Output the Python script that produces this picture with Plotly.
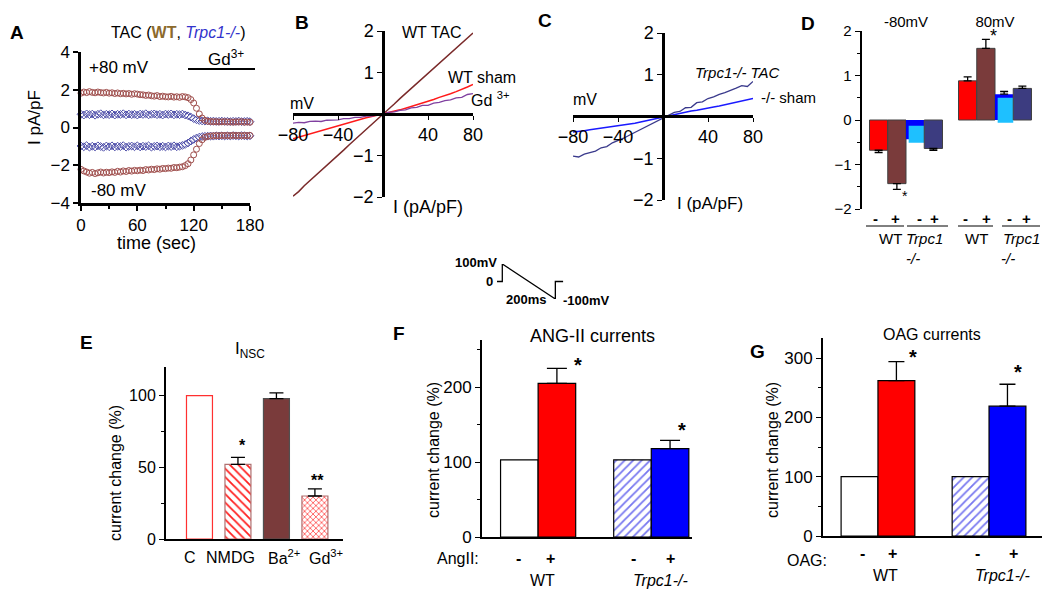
import plotly.graph_objects as go

FONT = "Arial, Liberation Sans, sans-serif"
# the page body keeps its default 8px margin, so the figure is drawn 8px smaller
# and every position below is given in window pixels
OFF = 8
FW, FH = 1050 - OFF, 600 - OFF

# ---- panel A: current vs time at +80 / -80 mV
time_s = [0, 3, 6, 9, 12, 15, 18, 21, 24, 27, 30, 33, 36, 39, 42, 45, 48, 51, 54, 57, 60,
          63, 66, 69, 72, 75, 78, 81, 84, 87, 90, 93, 96, 99, 102, 105, 108, 111, 114, 117, 120,
          123, 126, 129, 132, 135, 138, 141, 144, 147, 150, 153, 156, 159, 162, 165, 168, 171, 174, 177, 180]
wt_pos = [1.82, 1.88, 1.85, 1.90, 1.86, 1.84, 1.88, 1.85, 1.83, 1.86, 1.82,
          1.84, 1.80, 1.83, 1.79, 1.81, 1.78, 1.80, 1.76, 1.79, 1.77,
          1.74, 1.73, 1.70, 1.72, 1.68, 1.66, 1.69, 1.64, 1.66, 1.63,
          1.62, 1.65, 1.61, 1.63, 1.60, 1.64, 1.62, 1.58, 1.48, 1.30,
          1.02, 0.72, 0.50, 0.38, 0.33, 0.32, 0.30, 0.31, 0.29, 0.30,
          0.31, 0.29, 0.30, 0.28, 0.30, 0.29, 0.31, 0.28, 0.29, 0.28]
wt_neg = [-2.22, -2.30, -2.36, -2.42, -2.38, -2.44, -2.40, -2.36, -2.41, -2.37, -2.39,
          -2.35, -2.38, -2.32, -2.36, -2.30, -2.33, -2.28, -2.31, -2.27, -2.29,
          -2.26, -2.28, -2.23, -2.25, -2.21, -2.23, -2.19, -2.21, -2.17, -2.18,
          -2.15, -2.16, -2.12, -2.13, -2.10, -2.08, -2.02, -1.92, -1.72, -1.45,
          -1.15, -0.85, -0.65, -0.52, -0.47, -0.45, -0.44, -0.43, -0.44, -0.42,
          -0.43, -0.42, -0.44, -0.41, -0.43, -0.42, -0.44, -0.42, -0.43, -0.42]
ko_pos = [0.70, 0.66, 0.72, 0.68, 0.71, 0.65, 0.70, 0.73, 0.67, 0.70, 0.68,
          0.72, 0.66, 0.70, 0.69, 0.73, 0.67, 0.71, 0.68, 0.70, 0.66,
          0.71, 0.69, 0.73, 0.67, 0.70, 0.72, 0.68, 0.70, 0.66, 0.71,
          0.69, 0.72, 0.67, 0.70, 0.68, 0.71, 0.66, 0.62, 0.55, 0.47,
          0.41, 0.37, 0.35, 0.34, 0.35, 0.33, 0.34, 0.32, 0.33, 0.34,
          0.32, 0.33, 0.31, 0.33, 0.32, 0.34, 0.31, 0.32, 0.33, 0.31]
ko_neg = [-0.98, -1.02, -0.96, -1.04, -0.99, -1.03, -0.97, -1.01, -1.05, -0.98, -1.02,
          -0.97, -1.03, -0.99, -1.01, -0.96, -1.04, -1.00, -0.98, -1.02, -0.97,
          -1.03, -0.99, -1.01, -0.97, -1.04, -1.00, -0.98, -1.02, -0.99, -1.03,
          -0.98, -1.01, -0.97, -1.02, -0.99, -0.95, -0.90, -0.82, -0.72, -0.63,
          -0.56, -0.51, -0.48, -0.47, -0.46, -0.45, -0.46, -0.44, -0.45, -0.44,
          -0.45, -0.44, -0.45, -0.43, -0.44, -0.45, -0.43, -0.44, -0.45, -0.44]

# ---- panels B, C: I-V curves
volt_mv = [-80, -75, -70, -65, -60, -55, -50, -45, -40, -35, -30, -25, -20, -15, -10, -5, 0,
           5, 10, 15, 20, 25, 30, 35, 40, 45, 50, 55, 60, 65, 70, 75, 80]
wt_tac = [-1.98, -1.87, -1.73, -1.61, -1.49, -1.36, -1.24, -1.12, -0.99, -0.87, -0.74, -0.62, -0.50,
          -0.37, -0.25, -0.12, 0.0, 0.12, 0.24, 0.37, 0.49, 0.61, 0.73, 0.86, 0.98, 1.10, 1.22,
          1.34, 1.46, 1.58, 1.71, 1.83, 1.95]
wt_sham = [-0.60, -0.56, -0.52, -0.48, -0.44, -0.41, -0.37, -0.33, -0.29, -0.25, -0.21, -0.17, -0.13,
           -0.09, -0.06, -0.03, 0.0, 0.03, 0.06, 0.10, 0.14, 0.18, 0.22, 0.27, 0.31, 0.35, 0.40,
           0.44, 0.49, 0.54, 0.59, 0.65, 0.71]
wt_gd = [-0.22, -0.20, -0.21, -0.18, -0.17, -0.18, -0.15, -0.14, -0.14, -0.11, -0.11, -0.08, -0.08,
         -0.05, -0.05, -0.02, 0.0, 0.04, 0.05, 0.09, 0.10, 0.15, 0.16, 0.21, 0.21, 0.26, 0.28,
         0.32, 0.34, 0.39, 0.40, 0.47, 0.49]
ko_tac = [-0.95, -0.97, -0.90, -0.86, -0.83, -0.75, -0.72, -0.63, -0.58, -0.52, -0.45, -0.38, -0.31,
          -0.23, -0.16, -0.10, -0.02, 0.04, 0.10, 0.12, 0.21, 0.22, 0.33, 0.35, 0.43, 0.47, 0.53,
          0.57, 0.62, 0.68, 0.74, 0.72, 0.84]
ko_sham = [-0.37, -0.36, -0.34, -0.32, -0.30, -0.29, -0.27, -0.25, -0.23, -0.21, -0.18, -0.16, -0.13,
           -0.10, -0.07, -0.04, -0.01, 0.02, 0.05, 0.08, 0.10, 0.13, 0.15, 0.18, 0.20, 0.23, 0.25,
           0.28, 0.31, 0.34, 0.37, 0.40, 0.43]

# ---- panel D: mean currents at -80 / 80 mV
d_volts = ["-80mV", "80mV"]
d_wt_sham = [-0.68, 0.88]
d_wt_sham_err = [0.05, 0.09]
d_wt_tac = [-1.43, 1.61]
d_wt_tac_err = [0.13, 0.20]
d_ko_sham = [-0.43, 0.58]
d_ko_sham_err = [0.0, 0.06]
d_ko_sham_top = [-0.13, 0.50]
d_ko_sham_bottom = [-0.51, -0.06]
d_ko_tac = [-0.64, 0.71]
d_ko_tac_err = [0.04, 0.05]

# ---- panel E: I_NSC blockers
e_labels = ["C", "NMDG", "Ba<sup>2+</sup>", "Gd<sup>3+</sup>"]
e_values = [100, 52, 98, 30]
e_err = [0, 5, 4, 5]

# ---- panels F, G
genotypes = ["WT", "Trpc1-/-"]
angii_minus = [103, 103]
angii_plus = [205, 118]
angii_plus_err = [20, 11]
oag_minus = [100, 100]
oag_plus = [262, 219]
oag_plus_err = [32, 37]

# ---- voltage protocol
prot_t = [0, 20, 20, 220, 220, 250]
prot_v = [0, 0, 100, -100, 0, 0]

RED = "#ff0000"
BROWN = "#7a3b3b"
BLUE = "#0000ff"
CYAN = "#1ec0ff"
NAVY = "#3c3c80"


def px(x):
    return (x - OFF) / FW


def py(y):
    return 1 - (y - OFF) / FH


fig = go.Figure()

# A
for ys, sym, col in [(ko_pos, "diamond-open", "#4b4ba8"), (ko_neg, "diamond-open", "#4b4ba8"),
                     (wt_pos, "circle-open", "#a0504e"), (wt_neg, "circle-open", "#a0504e")]:
    fig.add_trace(go.Scatter(x=time_s, y=ys, mode="markers", xaxis="x", yaxis="y", cliponaxis=False,
                             marker=dict(symbol=sym, size=6, color=col, line=dict(width=1))))

# B
fig.add_trace(go.Scatter(x=volt_mv, y=wt_tac, mode="lines", line=dict(color="#7a2a2a", width=1.5),
                         xaxis="x2", yaxis="y2"))
fig.add_trace(go.Scatter(x=volt_mv, y=wt_sham, mode="lines", line=dict(color="#ff1a1a", width=1.5),
                         xaxis="x2", yaxis="y2"))
fig.add_trace(go.Scatter(x=volt_mv, y=wt_gd, mode="lines", line=dict(color="#8040a0", width=1.3),
                         xaxis="x2", yaxis="y2"))

# C
fig.add_trace(go.Scatter(x=volt_mv, y=ko_sham, mode="lines", line=dict(color="#1a1aff", width=1.5),
                         xaxis="x3", yaxis="y3"))
fig.add_trace(go.Scatter(x=volt_mv, y=ko_tac, mode="lines", line=dict(color="#3a3a8c", width=1.3),
                         xaxis="x3", yaxis="y3"))

# D
bw = 0.205
outline = dict(color="#404040", width=1)
ebar = dict(type="data", symmetric=False, color="black", thickness=1.3, width=4)
fig.add_trace(go.Bar(x=d_volts, y=d_wt_sham, width=bw, offset=-2 * bw, marker=dict(color=RED, line=outline),
                     error_y=dict(array=[0, d_wt_sham_err[1]], arrayminus=[d_wt_sham_err[0], 0], **ebar),
                     xaxis="x4", yaxis="y4"))
fig.add_trace(go.Bar(x=d_volts, y=d_wt_tac, width=bw, offset=-bw, marker=dict(color=BROWN, line=outline),
                     error_y=dict(array=[0, d_wt_tac_err[1]], arrayminus=[d_wt_tac_err[0], 0], **ebar),
                     xaxis="x4", yaxis="y4"))
fig.add_trace(go.Bar(x=d_volts, y=d_ko_sham, width=bw, offset=0, marker=dict(color=BLUE, line=dict(width=0)),
                     error_y=dict(array=[0, d_ko_sham_err[1]], arrayminus=[d_ko_sham_err[0], 0], **ebar),
                     xaxis="x4", yaxis="y4"))
fig.add_trace(go.Bar(x=d_volts, y=[b - t for t, b in zip(d_ko_sham_top, d_ko_sham_bottom)], base=d_ko_sham_top,
                     width=bw - 0.03, offset=0.03, marker=dict(color=CYAN, line=dict(width=0)),
                     xaxis="x4", yaxis="y4"))
fig.add_trace(go.Bar(x=d_volts, y=d_ko_tac, width=bw, offset=bw, marker=dict(color=NAVY, line=outline),
                     error_y=dict(array=[0, d_ko_tac_err[1]], arrayminus=[d_ko_tac_err[0], 0], **ebar),
                     xaxis="x4", yaxis="y4"))

# E: one trace per bar so each can carry its own fill pattern
e_fill = ["white", "white", BROWN, "white"]
e_line = ["#ff3030", "#b07070", "#505050", "#b07070"]
e_pat = ["", "\\", "", "x"]
e_pat_size = [6, 6, 6, 4]
for i in range(len(e_labels)):
    fig.add_trace(go.Bar(
        x=[e_labels[i]], y=[e_values[i]], width=0.675, xaxis="x5", yaxis="y5",
        marker=dict(color=e_fill[i], line=dict(color=e_line[i], width=1.2),
                    pattern=dict(shape=e_pat[i], fillmode="overlay", fgcolor="#ff2020", bgcolor=e_fill[i],
                                 fgopacity=1, size=e_pat_size[i], solidity=0.3)),
        error_y=dict(type="data", symmetric=False, array=[e_err[i]], arrayminus=[0],
                     color="black", thickness=1.3, width=7, visible=e_err[i] > 0)))

# F and G
hw = 0.332
for ax, minus, plus, err, capw in [("6", angii_minus, angii_plus, angii_plus_err, 10),
                                    ("7", oag_minus, oag_plus, oag_plus_err, 8)]:
    fig.add_trace(go.Bar(
        x=genotypes, y=minus, width=hw, offset=-hw, xaxis="x" + ax, yaxis="y" + ax,
        marker=dict(color="white", line=dict(color="black", width=1.2),
                    pattern=dict(shape=["", "/"], fillmode="overlay", fgcolor="#7878f0", bgcolor="white",
                                 fgopacity=1, size=6, solidity=0.3))))
    fig.add_trace(go.Bar(
        x=genotypes, y=plus, width=hw, offset=0, xaxis="x" + ax, yaxis="y" + ax,
        marker=dict(color=[RED, BLUE], line=dict(color="black", width=1.2)),
        error_y=dict(type="data", symmetric=False, array=err, arrayminus=[0, 0],
                     color="black", thickness=1.3, width=capw)))

# protocol
fig.add_trace(go.Scatter(x=prot_t, y=prot_v, mode="lines", line=dict(color="black", width=1.3),
                         xaxis="x8", yaxis="y8"))


def tfont(size):
    return dict(size=size, family=FONT, color="black")


base = dict(showgrid=False, zeroline=False, linecolor="black", tickcolor="black", automargin=False)
mticks = dict(ticks="outside", ticklen=3, tickcolor="black", showgrid=False)

fig.update_layout(
    template="none",
    width=FW, height=FH, margin=dict(l=0, r=0, t=0, b=0, pad=0), autosize=False,
    paper_bgcolor="white", plot_bgcolor="white", showlegend=False,
    barmode="overlay", font=dict(family=FONT, color="black"),
    xaxis=dict(domain=[px(81), px(250)], range=[0, 180], anchor="y", showline=True, linewidth=2.5,
               ticks="outside", ticklen=5, tickwidth=1.5, tickvals=[0, 60, 120, 180], tickfont=tfont(17),
               minor=dict(dtick=30, **mticks), **base),
    yaxis=dict(domain=[py(203), py(52)], range=[-4, 4], anchor="x", showline=True, linewidth=2.5,
               ticks="outside", ticklen=5, tickwidth=1.5, tickvals=[-4, -2, 0, 2, 4], tickfont=tfont(17), **base),
    xaxis2=dict(domain=[px(293), px(473)], range=[-80, 80], anchor="free", position=py(114),
                showline=True, linewidth=2.5, ticks="outside", ticklen=4, tickvals=[-80, -40, 40, 80],
                tickfont=tfont(18), **base),
    yaxis2=dict(domain=[py(197), py(31)], range=[-2, 2], anchor="free", position=px(383),
                showline=True, linewidth=2.5, ticks="outside", ticklen=5, tickvals=[-2, -1, 1, 2],
                tickfont=tfont(18), **base),
    xaxis3=dict(domain=[px(573), px(753)], range=[-80, 80], anchor="free", position=py(116),
                showline=True, linewidth=2.5, ticks="outside", ticklen=4, tickvals=[-80, -40, 40, 80],
                tickfont=tfont(18), **base),
    yaxis3=dict(domain=[py(200), py(33)], range=[-2, 2], anchor="free", position=px(663),
                showline=True, linewidth=2.5, ticks="outside", ticklen=5, tickvals=[-2, -1, 1, 2],
                tickfont=tfont(18), **base),
    xaxis4=dict(domain=[px(861.5), px(1039.5)], range=[-0.5, 1.5], anchor="y4", side="top",
                showline=False, ticks="", type="category", tickfont=tfont(15), **base),
    yaxis4=dict(domain=[py(209), py(31)], range=[-2, 2], anchor="x4", showline=True, linewidth=2,
                ticks="outside", ticklen=5, dtick=1, minor=dict(dtick=0.5, **mticks), tickfont=tfont(15), **base),
    xaxis5=dict(domain=[px(166), px(343)], range=[-0.87, 3.73], anchor="y5", showline=True, linewidth=2,
                ticks="", type="category", showticklabels=False, **base),
    yaxis5=dict(domain=[py(539), py(367)], range=[0, 120], anchor="x5", showline=True, linewidth=2,
                ticks="outside", ticklen=5, tickvals=[0, 50, 100], minor=dict(dtick=25, **mticks),
                tickfont=tfont(16), **base),
    xaxis6=dict(domain=[px(482), px(692)], range=[-0.496, 1.36], anchor="y6", showline=True, linewidth=2,
                ticks="", type="category", showticklabels=False, **base),
    yaxis6=dict(domain=[py(537), py(340)], range=[0, 263], anchor="x6", showline=True, linewidth=2,
                ticks="outside", ticklen=5, tickvals=[0, 100, 200], minor=dict(dtick=50, **mticks),
                tickfont=tfont(17), **base),
    xaxis7=dict(domain=[px(823), px(1043)], range=[-0.495, 1.486], anchor="y7", showline=True, linewidth=2,
                ticks="", type="category", showticklabels=False, **base),
    yaxis7=dict(domain=[py(536), py(338)], range=[0, 334], anchor="x7", showline=True, linewidth=2,
                ticks="outside", ticklen=5, tickvals=[0, 100, 200, 300], minor=dict(dtick=50, **mticks),
                tickfont=tfont(17), **base),
    xaxis8=dict(domain=[px(497), px(563.3)], range=[0, 250], anchor="y8", visible=False),
    yaxis8=dict(domain=[py(299), py(264)], range=[-100, 100], anchor="x8", visible=False),
)


def ann(x, y, text, size=15, **kw):
    return dict(x=px(x), y=py(y), xref="paper", yref="paper", text=text, showarrow=False,
                font=tfont(size), xanchor="center", yanchor="middle", **kw)


anns = [
    # A
    ann(17, 33, "<b>A</b>", 19),
    ann(178, 32, "TAC (<span style='color:#8c6a2c'><b>WT</b></span>, "
                 "<span style='color:#3333cc'><i>Trpc1-/-</i></span>)", 16),
    ann(226, 58, "Gd<sup>3+</sup>", 17),
    ann(119, 67, "+80 mV", 17),
    ann(118, 190, "-80 mV", 17),
    ann(35, 118, "I pA/pF", 17, textangle=-90),
    ann(156, 243, "time (sec)", 18),
    # B
    ann(302, 23, "<b>B</b>", 19),
    ann(432, 33, "WT TAC", 16),
    ann(482, 77, "WT sham", 16),
    ann(490, 99, "Gd <sup>3+</sup>", 16),
    ann(302, 103, "mV", 16),
    ann(428, 207, "I (pA/pF)", 18),
    # C
    ann(545, 21, "<b>C</b>", 19),
    ann(737, 72, "<i>Trpc1-/- TAC</i>", 15),
    ann(788, 98, "-/- sham", 15),
    ann(585, 100, "mV", 16),
    ann(710, 203, "I (pA/pF)", 17),
    # D
    ann(808, 24, "<b>D</b>", 19),
    ann(905, 196, "*", 14),
    ann(993, 36, "*", 18),
    # protocol
    ann(476, 263, "<b>100mV</b>", 13),
    ann(489, 281, "<b>0</b>", 13),
    ann(526, 299, "<b>200ms</b>", 13),
    ann(586, 300, "<b>-100mV</b>", 13),
    # E
    ann(86, 342, "<b>E</b>", 19),
    ann(250, 350, "I<sub>NSC</sub>", 17),
    ann(115, 473, "current change (%)", 16, textangle=-90),
    ann(242, 445, "<b>*</b>", 16),
    ann(317, 480, "<b>**</b>", 16),
    # F
    ann(399, 333, "<b>F</b>", 19),
    ann(592, 336, "ANG-II currents", 18),
    ann(433, 450, "current change (%)", 16, textangle=-90),
    ann(458, 558, "AngII:", 16),
    ann(518, 558, "<b>-</b>", 16), ann(550, 558, "<b>+</b>", 16),
    ann(633, 558, "<b>-</b>", 16), ann(670, 558, "<b>+</b>", 16),
    ann(542, 580, "WT", 16),
    ann(660, 580, "<i>Trpc1-/-</i>", 16),
    ann(578, 365, "<b>*</b>", 20),
    ann(682, 430, "<b>*</b>", 20),
    # G
    ann(757, 352, "<b>G</b>", 19),
    ann(932, 334, "OAG currents", 16),
    ann(772, 450, "current change (%)", 16, textangle=-90),
    ann(807, 560, "OAG:", 16),
    ann(862, 553, "<b>-</b>", 16), ann(892, 553, "<b>+</b>", 16),
    ann(977, 553, "<b>-</b>", 16), ann(1013, 553, "<b>+</b>", 16),
    ann(885, 575, "WT", 16),
    ann(1002, 575, "<i>Trpc1-/-</i>", 16),
    ann(913, 357, "<b>*</b>", 20),
    ann(1018, 372, "<b>*</b>", 20),
]

# E category labels (sit slightly off the bar centres in the original)
for x, t in zip([190, 230, 284, 326], e_labels):
    anns.append(ann(x, 557, t, 16))

# D group labels under bars
for x, t in [(875, "<b>-</b>"), (895, "<b>+</b>"), (919, "<b>-</b>"), (934, "<b>+</b>"),
             (965, "<b>-</b>"), (986, "<b>+</b>"), (1009, "<b>-</b>"), (1026, "<b>+</b>")]:
    anns.append(ann(x, 218, t, 15))
for x, t in [(890, "WT"), (924, "<i>Trpc1</i>"), (976, "WT"), (1021, "<i>Trpc1</i>")]:
    anns.append(ann(x, 239, t, 15))
anns.append(ann(913, 258, "<i>-/-</i>", 15))
anns.append(ann(1008, 258, "<i>-/-</i>", 15))

shapes = [dict(type="line", xref="paper", yref="paper", x0=px(188), x1=px(255), y0=py(69), y1=py(69),
               line=dict(color="black", width=2))]
for x0, x1 in [(866, 904), (907, 948), (958, 993), (1002, 1040)]:
    shapes.append(dict(type="line", xref="paper", yref="paper", x0=px(x0), x1=px(x1), y0=py(226), y1=py(226),
                       line=dict(color="black", width=1)))

fig.update_layout(annotations=anns, shapes=shapes)

fig.write_html("out.html")
